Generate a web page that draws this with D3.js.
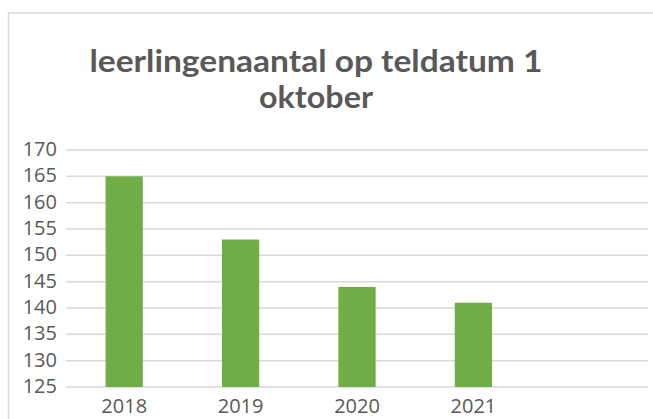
<!DOCTYPE html>
<html>
<head>
<meta charset="utf-8">
<script src="https://cdn.jsdelivr.net/npm/d3@7"></script>
<style>
    body { margin: 0; background: #fff; }
    svg text { font-family: "Open Sans", "Liberation Sans", sans-serif; fill: #595959; }
</style>
</head>
<body>
<div id="chart"></div>
<script>
// data
const years = ["2018", "2019", "2020", "2021", ""];
const leerlingen = [165, 153, 144, 141, null];
const yTicks = [125, 130, 135, 140, 145, 150, 155, 160, 165, 170];
const titleLines = ["leerlingenaantal op teldatum 1", "oktober"];
const titleWidths = [453, 114];

const width = 653, height = 419;
const margin = {top: 150, right: 5, bottom: 32, left: 66};

let svg = d3.select("#chart").append("svg")
    .attr("width", width)
    .attr("height", height);

// chart frame (only top and left visible in the crop)
svg.append("rect")
    .attr("x", 8.5)
    .attr("y", 13)
    .attr("width", 660)
    .attr("height", 430)
    .attr("fill", "none")
    .attr("stroke", "#d9d9d9")
    .attr("stroke-width", 1.5);

let x = d3.scaleBand()
    .domain(years)
    .range([margin.left, width - margin.right])
    .paddingInner(0.68)
    .paddingOuter(0.34);

let y = d3.scaleLinear()
    .domain([125, 170])
    .range([height - margin.bottom, margin.top]);

// gridlines
svg.append("g")
    .selectAll("line")
    .data(yTicks)
    .enter()
    .append("line")
    .attr("x1", margin.left)
    .attr("x2", width - margin.right)
    .attr("y1", d => y(d))
    .attr("y2", d => y(d))
    .attr("stroke", "#d9d9d9")
    .attr("stroke-width", 1.5);

// y axis labels
let yAxis = d3.axisLeft(y).tickValues(yTicks).tickSize(0).tickPadding(9);
svg.append("g")
    .attr("transform", `translate(${margin.left}, 0)`)
    .call(yAxis)
    .call(g => g.select(".domain").remove())
    .selectAll("text")
    .style("font-size", "20px")
    .attr("dy", "0.28em")
    .attr("fill", "#595959");

// bars
svg.append("g")
    .selectAll("rect")
    .data(years.map((d, i) => ({year: d, value: leerlingen[i]})).filter(d => d.value !== null))
    .enter()
    .append("rect")
    .attr("x", d => x(d.year))
    .attr("width", x.bandwidth())
    .attr("y", d => y(d.value))
    .attr("height", d => y(125) - y(d.value))
    .attr("fill", "#70ad47");

// x axis labels
let xAxis = d3.axisBottom(x).tickSize(0).tickPadding(12);
svg.append("g")
    .attr("transform", `translate(0, ${y(125)})`)
    .call(xAxis)
    .call(g => g.select(".domain").remove())
    .selectAll("text")
    .style("font-size", "20px")
    .attr("fill", "#595959");

// title (Lato: tighter line box so the two lines don't collide)
svg.append("g")
    .selectAll("text")
    .data(titleLines)
    .enter()
    .append("text")
    .attr("x", 316)
    .attr("y", (d, i) => 72 + i * 36)
    .attr("text-anchor", "middle")
    .attr("textLength", (d, i) => titleWidths[i])
    .attr("lengthAdjust", "spacingAndGlyphs")
    .style("font-family", "Lato, 'Open Sans', sans-serif")
    .style("font-size", "29.5px")
    .style("font-weight", "bold")
    .text(d => d);
</script>
</body>
</html>
